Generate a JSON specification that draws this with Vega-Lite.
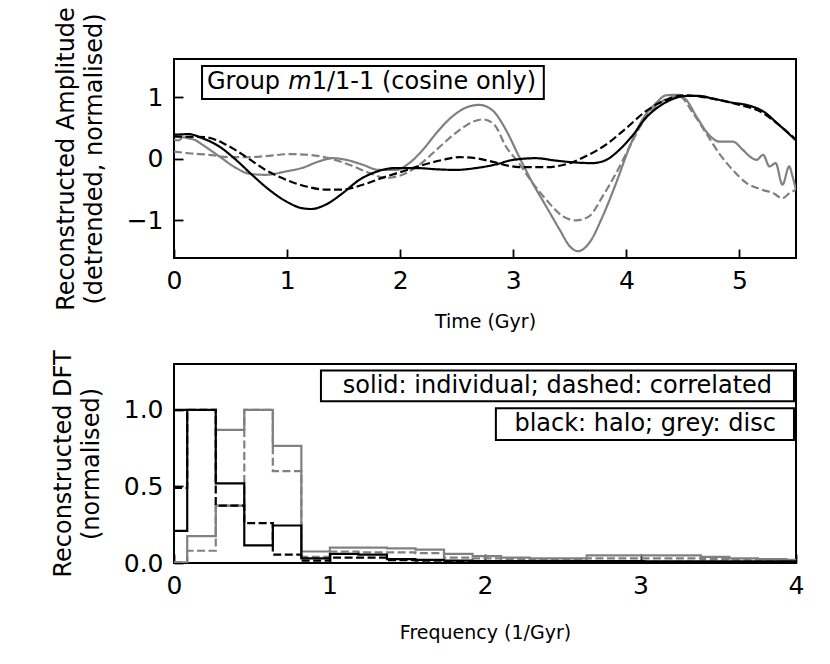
{
  "$schema": "https://vega.github.io/schema/vega-lite/v6.json",
  "background": "white",
  "padding": {"left": 50, "top": 5, "right": 5, "bottom": 5},
  "spacing": 16,
  "config": {
    "font": "DejaVu Sans",
    "view": {"stroke": "black", "strokeWidth": 2},
    "axis": {
      "grid": false, "domain": false,
      "tickColor": "black", "tickWidth": 1.8, "tickSize": -9,
      "labelFontSize": 25, "labelColor": "black", "labelFlush": false, "labelOverlap": false,
      "titleColor": "black", "titleFontWeight": "normal"
    },
    "axisX": {"labelPadding": 19, "titleFontSize": 19, "titlePadding": 19},
    "axisY": {"labelPadding": 20, "titleFontSize": 24, "titleLineHeight": 28, "titlePadding": 20}
  },
  "datasets": {
    "amplitude": [
      {"component": "disc", "kind": "individual", "t": 0, "v": 0.31},
      {"component": "disc", "kind": "individual", "t": 0.04, "v": 0.30},
      {"component": "disc", "kind": "individual", "t": 0.08, "v": 0.35},
      {"component": "disc", "kind": "individual", "t": 0.13, "v": 0.33},
      {"component": "disc", "kind": "individual", "t": 0.18, "v": 0.31},
      {"component": "disc", "kind": "individual", "t": 0.25, "v": 0.23},
      {"component": "disc", "kind": "individual", "t": 0.40, "v": 0.04},
      {"component": "disc", "kind": "individual", "t": 0.55, "v": -0.15},
      {"component": "disc", "kind": "individual", "t": 0.66, "v": -0.24},
      {"component": "disc", "kind": "individual", "t": 0.81, "v": -0.26},
      {"component": "disc", "kind": "individual", "t": 0.99, "v": -0.205},
      {"component": "disc", "kind": "individual", "t": 1.13, "v": -0.15},
      {"component": "disc", "kind": "individual", "t": 1.28, "v": -0.043},
      {"component": "disc", "kind": "individual", "t": 1.40, "v": 0.01},
      {"component": "disc", "kind": "individual", "t": 1.52, "v": -0.016},
      {"component": "disc", "kind": "individual", "t": 1.67, "v": -0.097},
      {"component": "disc", "kind": "individual", "t": 1.81, "v": -0.18},
      {"component": "disc", "kind": "individual", "t": 1.96, "v": -0.18},
      {"component": "disc", "kind": "individual", "t": 2.08, "v": -0.07},
      {"component": "disc", "kind": "individual", "t": 2.20, "v": 0.146},
      {"component": "disc", "kind": "individual", "t": 2.32, "v": 0.417},
      {"component": "disc", "kind": "individual", "t": 2.46, "v": 0.686},
      {"component": "disc", "kind": "individual", "t": 2.61, "v": 0.85},
      {"component": "disc", "kind": "individual", "t": 2.70, "v": 0.875},
      {"component": "disc", "kind": "individual", "t": 2.82, "v": 0.78},
      {"component": "disc", "kind": "individual", "t": 2.935, "v": 0.47},
      {"component": "disc", "kind": "individual", "t": 3.05, "v": 0.04},
      {"component": "disc", "kind": "individual", "t": 3.17, "v": -0.39},
      {"component": "disc", "kind": "individual", "t": 3.29, "v": -0.77},
      {"component": "disc", "kind": "individual", "t": 3.41, "v": -1.15},
      {"component": "disc", "kind": "individual", "t": 3.50, "v": -1.42},
      {"component": "disc", "kind": "individual", "t": 3.57, "v": -1.50},
      {"component": "disc", "kind": "individual", "t": 3.67, "v": -1.37},
      {"component": "disc", "kind": "individual", "t": 3.79, "v": -0.935},
      {"component": "disc", "kind": "individual", "t": 3.91, "v": -0.39},
      {"component": "disc", "kind": "individual", "t": 4.03, "v": 0.20},
      {"component": "disc", "kind": "individual", "t": 4.14, "v": 0.63},
      {"component": "disc", "kind": "individual", "t": 4.26, "v": 0.90},
      {"component": "disc", "kind": "individual", "t": 4.35, "v": 1.03},
      {"component": "disc", "kind": "individual", "t": 4.455, "v": 1.04},
      {"component": "disc", "kind": "individual", "t": 4.53, "v": 0.956},
      {"component": "disc", "kind": "individual", "t": 4.62, "v": 0.686},
      {"component": "disc", "kind": "individual", "t": 4.73, "v": 0.39},
      {"component": "disc", "kind": "individual", "t": 4.82, "v": 0.28},
      {"component": "disc", "kind": "individual", "t": 4.94, "v": 0.28},
      {"component": "disc", "kind": "individual", "t": 5.03, "v": 0.146},
      {"component": "disc", "kind": "individual", "t": 5.09, "v": 0.04},
      {"component": "disc", "kind": "individual", "t": 5.15, "v": -0.016},
      {"component": "disc", "kind": "individual", "t": 5.21, "v": 0.065},
      {"component": "disc", "kind": "individual", "t": 5.265, "v": -0.124},
      {"component": "disc", "kind": "individual", "t": 5.32, "v": -0.07},
      {"component": "disc", "kind": "individual", "t": 5.38, "v": -0.42},
      {"component": "disc", "kind": "individual", "t": 5.44, "v": -0.124},
      {"component": "disc", "kind": "individual", "t": 5.47, "v": -0.29},
      {"component": "disc", "kind": "individual", "t": 5.50, "v": -0.50},

      {"component": "disc", "kind": "correlated", "t": 0, "v": 0.118},
      {"component": "disc", "kind": "correlated", "t": 0.13, "v": 0.09},
      {"component": "disc", "kind": "correlated", "t": 0.31, "v": 0.065},
      {"component": "disc", "kind": "correlated", "t": 0.49, "v": 0.027},
      {"component": "disc", "kind": "correlated", "t": 0.66, "v": 0.027},
      {"component": "disc", "kind": "correlated", "t": 0.84, "v": 0.049},
      {"component": "disc", "kind": "correlated", "t": 1.02, "v": 0.076},
      {"component": "disc", "kind": "correlated", "t": 1.19, "v": 0.065},
      {"component": "disc", "kind": "correlated", "t": 1.37, "v": 0.01},
      {"component": "disc", "kind": "correlated", "t": 1.55, "v": -0.097},
      {"component": "disc", "kind": "correlated", "t": 1.73, "v": -0.23},
      {"component": "disc", "kind": "correlated", "t": 1.87, "v": -0.31},
      {"component": "disc", "kind": "correlated", "t": 2.02, "v": -0.26},
      {"component": "disc", "kind": "correlated", "t": 2.17, "v": -0.097},
      {"component": "disc", "kind": "correlated", "t": 2.32, "v": 0.146},
      {"component": "disc", "kind": "correlated", "t": 2.49, "v": 0.417},
      {"component": "disc", "kind": "correlated", "t": 2.64, "v": 0.60},
      {"component": "disc", "kind": "correlated", "t": 2.73, "v": 0.64},
      {"component": "disc", "kind": "correlated", "t": 2.83, "v": 0.56},
      {"component": "disc", "kind": "correlated", "t": 2.935, "v": 0.20},
      {"component": "disc", "kind": "correlated", "t": 3.05, "v": -0.07},
      {"component": "disc", "kind": "correlated", "t": 3.17, "v": -0.39},
      {"component": "disc", "kind": "correlated", "t": 3.29, "v": -0.66},
      {"component": "disc", "kind": "correlated", "t": 3.44, "v": -0.935},
      {"component": "disc", "kind": "correlated", "t": 3.555, "v": -1.0},
      {"component": "disc", "kind": "correlated", "t": 3.67, "v": -0.935},
      {"component": "disc", "kind": "correlated", "t": 3.79, "v": -0.61},
      {"component": "disc", "kind": "correlated", "t": 3.91, "v": -0.23},
      {"component": "disc", "kind": "correlated", "t": 4.03, "v": 0.20},
      {"component": "disc", "kind": "correlated", "t": 4.14, "v": 0.58},
      {"component": "disc", "kind": "correlated", "t": 4.26, "v": 0.85},
      {"component": "disc", "kind": "correlated", "t": 4.38, "v": 0.99},
      {"component": "disc", "kind": "correlated", "t": 4.47, "v": 1.01},
      {"component": "disc", "kind": "correlated", "t": 4.59, "v": 0.74},
      {"component": "disc", "kind": "correlated", "t": 4.705, "v": 0.417},
      {"component": "disc", "kind": "correlated", "t": 4.82, "v": 0.09},
      {"component": "disc", "kind": "correlated", "t": 4.94, "v": -0.18},
      {"component": "disc", "kind": "correlated", "t": 5.06, "v": -0.39},
      {"component": "disc", "kind": "correlated", "t": 5.18, "v": -0.49},
      {"component": "disc", "kind": "correlated", "t": 5.30, "v": -0.56},
      {"component": "disc", "kind": "correlated", "t": 5.38, "v": -0.64},
      {"component": "disc", "kind": "correlated", "t": 5.44, "v": -0.56},
      {"component": "disc", "kind": "correlated", "t": 5.50, "v": -0.50},

      {"component": "halo", "kind": "individual", "t": 0, "v": 0.39},
      {"component": "halo", "kind": "individual", "t": 0.13, "v": 0.40},
      {"component": "halo", "kind": "individual", "t": 0.25, "v": 0.335},
      {"component": "halo", "kind": "individual", "t": 0.40, "v": 0.20},
      {"component": "halo", "kind": "individual", "t": 0.55, "v": -0.02},
      {"component": "halo", "kind": "individual", "t": 0.69, "v": -0.26},
      {"component": "halo", "kind": "individual", "t": 0.84, "v": -0.50},
      {"component": "halo", "kind": "individual", "t": 0.99, "v": -0.69},
      {"component": "halo", "kind": "individual", "t": 1.13, "v": -0.80},
      {"component": "halo", "kind": "individual", "t": 1.21, "v": -0.815},
      {"component": "halo", "kind": "individual", "t": 1.34, "v": -0.745},
      {"component": "halo", "kind": "individual", "t": 1.49, "v": -0.56},
      {"component": "halo", "kind": "individual", "t": 1.64, "v": -0.34},
      {"component": "halo", "kind": "individual", "t": 1.79, "v": -0.21},
      {"component": "halo", "kind": "individual", "t": 1.96, "v": -0.15},
      {"component": "halo", "kind": "individual", "t": 2.14, "v": -0.15},
      {"component": "halo", "kind": "individual", "t": 2.32, "v": -0.17},
      {"component": "halo", "kind": "individual", "t": 2.49, "v": -0.18},
      {"component": "halo", "kind": "individual", "t": 2.67, "v": -0.15},
      {"component": "halo", "kind": "individual", "t": 2.85, "v": -0.09},
      {"component": "halo", "kind": "individual", "t": 2.99, "v": -0.02},
      {"component": "halo", "kind": "individual", "t": 3.20, "v": 0.01},
      {"component": "halo", "kind": "individual", "t": 3.38, "v": -0.03},
      {"component": "halo", "kind": "individual", "t": 3.55, "v": -0.06},
      {"component": "halo", "kind": "individual", "t": 3.70, "v": -0.07},
      {"component": "halo", "kind": "individual", "t": 3.82, "v": -0.02},
      {"component": "halo", "kind": "individual", "t": 3.94, "v": 0.15},
      {"component": "halo", "kind": "individual", "t": 4.06, "v": 0.39},
      {"component": "halo", "kind": "individual", "t": 4.17, "v": 0.66},
      {"component": "halo", "kind": "individual", "t": 4.29, "v": 0.85},
      {"component": "halo", "kind": "individual", "t": 4.41, "v": 0.97},
      {"component": "halo", "kind": "individual", "t": 4.53, "v": 1.02},
      {"component": "halo", "kind": "individual", "t": 4.65, "v": 1.02},
      {"component": "halo", "kind": "individual", "t": 4.76, "v": 0.98},
      {"component": "halo", "kind": "individual", "t": 4.94, "v": 0.91},
      {"component": "halo", "kind": "individual", "t": 5.06, "v": 0.875},
      {"component": "halo", "kind": "individual", "t": 5.21, "v": 0.77},
      {"component": "halo", "kind": "individual", "t": 5.35, "v": 0.55},
      {"component": "halo", "kind": "individual", "t": 5.50, "v": 0.30},

      {"component": "halo", "kind": "correlated", "t": 0, "v": 0.36},
      {"component": "halo", "kind": "correlated", "t": 0.28, "v": 0.35},
      {"component": "halo", "kind": "correlated", "t": 0.46, "v": 0.23},
      {"component": "halo", "kind": "correlated", "t": 0.63, "v": 0.04},
      {"component": "halo", "kind": "correlated", "t": 0.81, "v": -0.18},
      {"component": "halo", "kind": "correlated", "t": 0.99, "v": -0.34},
      {"component": "halo", "kind": "correlated", "t": 1.17, "v": -0.45},
      {"component": "halo", "kind": "correlated", "t": 1.34, "v": -0.50},
      {"component": "halo", "kind": "correlated", "t": 1.49, "v": -0.50},
      {"component": "halo", "kind": "correlated", "t": 1.67, "v": -0.42},
      {"component": "halo", "kind": "correlated", "t": 1.84, "v": -0.31},
      {"component": "halo", "kind": "correlated", "t": 2.02, "v": -0.205},
      {"component": "halo", "kind": "correlated", "t": 2.20, "v": -0.10},
      {"component": "halo", "kind": "correlated", "t": 2.37, "v": -0.02},
      {"component": "halo", "kind": "correlated", "t": 2.52, "v": 0.027},
      {"component": "halo", "kind": "correlated", "t": 2.67, "v": 0.01},
      {"component": "halo", "kind": "correlated", "t": 2.82, "v": -0.05},
      {"component": "halo", "kind": "correlated", "t": 2.95, "v": -0.11},
      {"component": "halo", "kind": "correlated", "t": 3.05, "v": -0.135},
      {"component": "halo", "kind": "correlated", "t": 3.29, "v": -0.135},
      {"component": "halo", "kind": "correlated", "t": 3.50, "v": -0.07},
      {"component": "halo", "kind": "correlated", "t": 3.64, "v": 0.04},
      {"component": "halo", "kind": "correlated", "t": 3.82, "v": 0.23},
      {"component": "halo", "kind": "correlated", "t": 4.0, "v": 0.50},
      {"component": "halo", "kind": "correlated", "t": 4.17, "v": 0.77},
      {"component": "halo", "kind": "correlated", "t": 4.35, "v": 0.956},
      {"component": "halo", "kind": "correlated", "t": 4.50, "v": 1.03},
      {"component": "halo", "kind": "correlated", "t": 4.65, "v": 1.01},
      {"component": "halo", "kind": "correlated", "t": 4.82, "v": 0.956},
      {"component": "halo", "kind": "correlated", "t": 5.0, "v": 0.875},
      {"component": "halo", "kind": "correlated", "t": 5.18, "v": 0.77},
      {"component": "halo", "kind": "correlated", "t": 5.35, "v": 0.55},
      {"component": "halo", "kind": "correlated", "t": 5.50, "v": 0.31}
    ],
    "dft": [
      {"component": "disc", "kind": "individual", "part": "a", "f": 0, "v": 0.005},
      {"component": "disc", "kind": "individual", "part": "a", "f": 0.085, "v": 0.175},
      {"component": "disc", "kind": "individual", "part": "a", "f": 0.2685, "v": 0.375},
      {"component": "disc", "kind": "individual", "part": "a", "f": 0.452, "v": 0.375},
      {"component": "disc", "kind": "individual", "part": "b", "f": 0.2685, "v": 0.87},
      {"component": "disc", "kind": "individual", "part": "b", "f": 0.452, "v": 1.0},
      {"component": "disc", "kind": "individual", "part": "b", "f": 0.6355, "v": 0.765},
      {"component": "disc", "kind": "individual", "part": "b", "f": 0.819, "v": 0.075},
      {"component": "disc", "kind": "individual", "part": "b", "f": 1.0025, "v": 0.10},
      {"component": "disc", "kind": "individual", "part": "b", "f": 1.186, "v": 0.10},
      {"component": "disc", "kind": "individual", "part": "b", "f": 1.3695, "v": 0.095},
      {"component": "disc", "kind": "individual", "part": "b", "f": 1.553, "v": 0.087},
      {"component": "disc", "kind": "individual", "part": "b", "f": 1.7365, "v": 0.06},
      {"component": "disc", "kind": "individual", "part": "b", "f": 1.92, "v": 0.045},
      {"component": "disc", "kind": "individual", "part": "b", "f": 2.1035, "v": 0.035},
      {"component": "disc", "kind": "individual", "part": "b", "f": 2.287, "v": 0.03},
      {"component": "disc", "kind": "individual", "part": "b", "f": 2.4705, "v": 0.03},
      {"component": "disc", "kind": "individual", "part": "b", "f": 2.654, "v": 0.05},
      {"component": "disc", "kind": "individual", "part": "b", "f": 2.8375, "v": 0.05},
      {"component": "disc", "kind": "individual", "part": "b", "f": 3.021, "v": 0.05},
      {"component": "disc", "kind": "individual", "part": "b", "f": 3.2045, "v": 0.05},
      {"component": "disc", "kind": "individual", "part": "b", "f": 3.388, "v": 0.04},
      {"component": "disc", "kind": "individual", "part": "b", "f": 3.5715, "v": 0.03},
      {"component": "disc", "kind": "individual", "part": "b", "f": 3.755, "v": 0.025},
      {"component": "disc", "kind": "individual", "part": "b", "f": 3.9385, "v": 0.02},
      {"component": "disc", "kind": "individual", "part": "b", "f": 4.0, "v": 0.02},

      {"component": "disc", "kind": "correlated", "part": "a", "f": 0, "v": 0.005},
      {"component": "disc", "kind": "correlated", "part": "a", "f": 0.085, "v": 0.08},
      {"component": "disc", "kind": "correlated", "part": "a", "f": 0.2685, "v": 0.375},
      {"component": "disc", "kind": "correlated", "part": "a", "f": 0.452, "v": 1.0},
      {"component": "disc", "kind": "correlated", "part": "a", "f": 0.6355, "v": 0.60},
      {"component": "disc", "kind": "correlated", "part": "a", "f": 0.819, "v": 0.04},
      {"component": "disc", "kind": "correlated", "part": "a", "f": 1.0025, "v": 0.075},
      {"component": "disc", "kind": "correlated", "part": "a", "f": 1.186, "v": 0.07},
      {"component": "disc", "kind": "correlated", "part": "a", "f": 1.3695, "v": 0.07},
      {"component": "disc", "kind": "correlated", "part": "a", "f": 1.553, "v": 0.065},
      {"component": "disc", "kind": "correlated", "part": "a", "f": 1.7365, "v": 0.035},
      {"component": "disc", "kind": "correlated", "part": "a", "f": 1.92, "v": 0.03},
      {"component": "disc", "kind": "correlated", "part": "a", "f": 2.1035, "v": 0.025},
      {"component": "disc", "kind": "correlated", "part": "a", "f": 2.287, "v": 0.02},
      {"component": "disc", "kind": "correlated", "part": "a", "f": 2.4705, "v": 0.02},
      {"component": "disc", "kind": "correlated", "part": "a", "f": 2.654, "v": 0.03},
      {"component": "disc", "kind": "correlated", "part": "a", "f": 2.8375, "v": 0.03},
      {"component": "disc", "kind": "correlated", "part": "a", "f": 3.021, "v": 0.03},
      {"component": "disc", "kind": "correlated", "part": "a", "f": 3.2045, "v": 0.03},
      {"component": "disc", "kind": "correlated", "part": "a", "f": 3.388, "v": 0.025},
      {"component": "disc", "kind": "correlated", "part": "a", "f": 3.5715, "v": 0.02},
      {"component": "disc", "kind": "correlated", "part": "a", "f": 3.755, "v": 0.015},
      {"component": "disc", "kind": "correlated", "part": "a", "f": 3.9385, "v": 0.01},
      {"component": "disc", "kind": "correlated", "part": "a", "f": 4.0, "v": 0.01},

      {"component": "halo", "kind": "individual", "part": "b", "f": 0, "v": 1.0},
      {"component": "halo", "kind": "individual", "part": "b", "f": 0.085, "v": 1.0},
      {"component": "halo", "kind": "individual", "part": "a", "f": 0, "v": 0.21},
      {"component": "halo", "kind": "individual", "part": "a", "f": 0.085, "v": 1.0},
      {"component": "halo", "kind": "individual", "part": "a", "f": 0.2685, "v": 0.52},
      {"component": "halo", "kind": "individual", "part": "a", "f": 0.452, "v": 0.115},
      {"component": "halo", "kind": "individual", "part": "a", "f": 0.6355, "v": 0.245},
      {"component": "halo", "kind": "individual", "part": "a", "f": 0.819, "v": 0.03},
      {"component": "halo", "kind": "individual", "part": "a", "f": 1.0025, "v": 0.06},
      {"component": "halo", "kind": "individual", "part": "a", "f": 1.186, "v": 0.055},
      {"component": "halo", "kind": "individual", "part": "a", "f": 1.3695, "v": 0.025},
      {"component": "halo", "kind": "individual", "part": "a", "f": 1.553, "v": 0.02},
      {"component": "halo", "kind": "individual", "part": "a", "f": 1.7365, "v": 0.015},
      {"component": "halo", "kind": "individual", "part": "a", "f": 1.92, "v": 0.013},
      {"component": "halo", "kind": "individual", "part": "a", "f": 2.1035, "v": 0.012},
      {"component": "halo", "kind": "individual", "part": "a", "f": 2.287, "v": 0.012},
      {"component": "halo", "kind": "individual", "part": "a", "f": 2.4705, "v": 0.012},
      {"component": "halo", "kind": "individual", "part": "a", "f": 2.654, "v": 0.012},
      {"component": "halo", "kind": "individual", "part": "a", "f": 2.8375, "v": 0.012},
      {"component": "halo", "kind": "individual", "part": "a", "f": 3.021, "v": 0.01},
      {"component": "halo", "kind": "individual", "part": "a", "f": 3.2045, "v": 0.01},
      {"component": "halo", "kind": "individual", "part": "a", "f": 3.388, "v": 0.01},
      {"component": "halo", "kind": "individual", "part": "a", "f": 3.5715, "v": 0.01},
      {"component": "halo", "kind": "individual", "part": "a", "f": 3.755, "v": 0.01},
      {"component": "halo", "kind": "individual", "part": "a", "f": 3.9385, "v": 0.01},
      {"component": "halo", "kind": "individual", "part": "a", "f": 4.0, "v": 0.01},

      {"component": "halo", "kind": "correlated", "part": "a", "f": 0, "v": 0.49},
      {"component": "halo", "kind": "correlated", "part": "a", "f": 0.085, "v": 1.0},
      {"component": "halo", "kind": "correlated", "part": "a", "f": 0.2685, "v": 0.375},
      {"component": "halo", "kind": "correlated", "part": "a", "f": 0.452, "v": 0.26},
      {"component": "halo", "kind": "correlated", "part": "a", "f": 0.6355, "v": 0.055},
      {"component": "halo", "kind": "correlated", "part": "a", "f": 0.819, "v": 0.015},
      {"component": "halo", "kind": "correlated", "part": "a", "f": 1.0025, "v": 0.035},
      {"component": "halo", "kind": "correlated", "part": "a", "f": 1.186, "v": 0.035},
      {"component": "halo", "kind": "correlated", "part": "a", "f": 1.3695, "v": 0.018},
      {"component": "halo", "kind": "correlated", "part": "a", "f": 1.553, "v": 0.016},
      {"component": "halo", "kind": "correlated", "part": "a", "f": 1.7365, "v": 0.012},
      {"component": "halo", "kind": "correlated", "part": "a", "f": 1.92, "v": 0.01},
      {"component": "halo", "kind": "correlated", "part": "a", "f": 2.1035, "v": 0.01},
      {"component": "halo", "kind": "correlated", "part": "a", "f": 2.287, "v": 0.01},
      {"component": "halo", "kind": "correlated", "part": "a", "f": 2.4705, "v": 0.008},
      {"component": "halo", "kind": "correlated", "part": "a", "f": 2.654, "v": 0.008},
      {"component": "halo", "kind": "correlated", "part": "a", "f": 2.8375, "v": 0.008},
      {"component": "halo", "kind": "correlated", "part": "a", "f": 3.021, "v": 0.008},
      {"component": "halo", "kind": "correlated", "part": "a", "f": 3.2045, "v": 0.008},
      {"component": "halo", "kind": "correlated", "part": "a", "f": 3.388, "v": 0.008},
      {"component": "halo", "kind": "correlated", "part": "a", "f": 3.5715, "v": 0.006},
      {"component": "halo", "kind": "correlated", "part": "a", "f": 3.755, "v": 0.006},
      {"component": "halo", "kind": "correlated", "part": "a", "f": 3.9385, "v": 0.006},
      {"component": "halo", "kind": "correlated", "part": "a", "f": 4.0, "v": 0.006}
    ],
    "topNote": [{"label": "Group ", "italic": "m", "rest": "1/1-1 (cosine only)"}],
    "bottomNotes": [{"styles": "solid: individual; dashed: correlated", "colours": "black: halo; grey: disc"}]
  },
  "vconcat": [
    {
      "width": 622,
      "height": 199,
      "layer": [
        {
          "data": {"name": "amplitude"},
          "transform": [{"filter": "datum.component === 'disc'"}],
          "mark": {"type": "line", "interpolate": "monotone", "strokeWidth": 2.2, "clip": true, "color": "grey"},
          "encoding": {
            "x": {"field": "t", "type": "quantitative", "scale": {"domain": [0, 5.5], "nice": false, "zero": false},
                  "axis": {"values": [0, 1, 2, 3, 4, 5], "format": "d", "title": "Time (Gyr)"}},
            "y": {"field": "v", "type": "quantitative", "scale": {"domain": [-1.61, 1.62], "nice": false, "zero": false},
                  "axis": {"values": [-1, 0, 1], "format": "d", "title": ["Reconstructed Amplitude", "(detrended, normalised)"]}},
            "strokeDash": {"field": "kind", "type": "nominal", "scale": {"domain": ["individual", "correlated"], "range": [[1, 0], [8, 3.5]]}, "legend": null}
          }
        },
        {
          "data": {"name": "amplitude"},
          "transform": [{"filter": "datum.component === 'halo'"}],
          "mark": {"type": "line", "interpolate": "monotone", "strokeWidth": 2.2, "clip": true, "color": "black"},
          "encoding": {
            "x": {"field": "t", "type": "quantitative"},
            "y": {"field": "v", "type": "quantitative"},
            "strokeDash": {"field": "kind", "type": "nominal", "scale": {"domain": ["individual", "correlated"], "range": [[1, 0], [8, 3.5]]}, "legend": null}
          }
        },
        {
          "data": {"name": "topNote"},
          "mark": {"type": "rect", "fill": "white", "stroke": "black", "strokeWidth": 2},
          "encoding": {
            "x": {"datum": 0.248, "type": "quantitative"}, "x2": {"datum": 3.27},
            "y": {"datum": 1.507, "type": "quantitative"}, "y2": {"datum": 0.972}
          }
        },
        {
          "data": {"name": "topNote"},
          "mark": {"type": "text", "align": "left", "baseline": "middle", "fontSize": 24, "color": "black"},
          "encoding": {"x": {"datum": 0.292, "type": "quantitative"}, "y": {"datum": 1.24, "type": "quantitative"}, "text": {"field": "label"}}
        },
        {
          "data": {"name": "topNote"},
          "mark": {"type": "text", "align": "left", "baseline": "middle", "fontSize": 24, "fontStyle": "italic", "color": "black"},
          "encoding": {"x": {"datum": 1.011, "type": "quantitative"}, "y": {"datum": 1.24, "type": "quantitative"}, "text": {"field": "italic"}}
        },
        {
          "data": {"name": "topNote"},
          "mark": {"type": "text", "align": "left", "baseline": "middle", "fontSize": 24, "color": "black"},
          "encoding": {"x": {"datum": 1.218, "type": "quantitative"}, "y": {"datum": 1.24, "type": "quantitative"}, "text": {"field": "rest"}}
        }
      ]
    },
    {
      "width": 622,
      "height": 199,
      "layer": [
        {
          "data": {"name": "dft"},
          "transform": [{"filter": "datum.component === 'disc'"}],
          "mark": {"type": "line", "interpolate": "step-after", "strokeWidth": 2.2, "clip": true, "color": "grey"},
          "encoding": {
            "x": {"field": "f", "type": "quantitative", "scale": {"domain": [0, 4], "nice": false, "zero": false},
                  "axis": {"values": [0, 1, 2, 3, 4], "format": "d", "title": "Frequency (1/Gyr)", "titlePadding": 25}},
            "y": {"field": "v", "type": "quantitative", "scale": {"domain": [0, 1.3], "nice": false},
                  "axis": {"values": [0, 0.5, 1.0], "format": ".1f", "title": ["Reconstructed DFT", "(normalised)"]}},
            "detail": {"field": "part", "type": "nominal"},
            "strokeDash": {"field": "kind", "type": "nominal", "scale": {"domain": ["individual", "correlated"], "range": [[1, 0], [8, 4]]}, "legend": null}
          }
        },
        {
          "data": {"name": "dft"},
          "transform": [{"filter": "datum.component === 'halo'"}],
          "mark": {"type": "line", "interpolate": "step-after", "strokeWidth": 2.2, "clip": true, "color": "black"},
          "encoding": {
            "x": {"field": "f", "type": "quantitative"},
            "y": {"field": "v", "type": "quantitative"},
            "detail": {"field": "part", "type": "nominal"},
            "strokeDash": {"field": "kind", "type": "nominal", "scale": {"domain": ["individual", "correlated"], "range": [[1, 0], [8, 4]]}, "legend": null}
          }
        },
        {
          "data": {"name": "bottomNotes"},
          "mark": {"type": "rect", "fill": "white", "stroke": "black", "strokeWidth": 2},
          "encoding": {
            "x": {"datum": 0.945, "type": "quantitative"}, "x2": {"datum": 3.987},
            "y": {"datum": 1.258, "type": "quantitative"}, "y2": {"datum": 1.057}
          }
        },
        {
          "data": {"name": "bottomNotes"},
          "mark": {"type": "text", "align": "center", "baseline": "middle", "fontSize": 24, "color": "black"},
          "encoding": {"x": {"datum": 2.466, "type": "quantitative"}, "y": {"datum": 1.158, "type": "quantitative"}, "text": {"field": "styles"}}
        },
        {
          "data": {"name": "bottomNotes"},
          "mark": {"type": "rect", "fill": "white", "stroke": "black", "strokeWidth": 2},
          "encoding": {
            "x": {"datum": 2.07, "type": "quantitative"}, "x2": {"datum": 3.987},
            "y": {"datum": 1.011, "type": "quantitative"}, "y2": {"datum": 0.803}
          }
        },
        {
          "data": {"name": "bottomNotes"},
          "mark": {"type": "text", "align": "center", "baseline": "middle", "fontSize": 24, "color": "black"},
          "encoding": {"x": {"datum": 3.03, "type": "quantitative"}, "y": {"datum": 0.907, "type": "quantitative"}, "text": {"field": "colours"}}
        }
      ]
    }
  ]
}
